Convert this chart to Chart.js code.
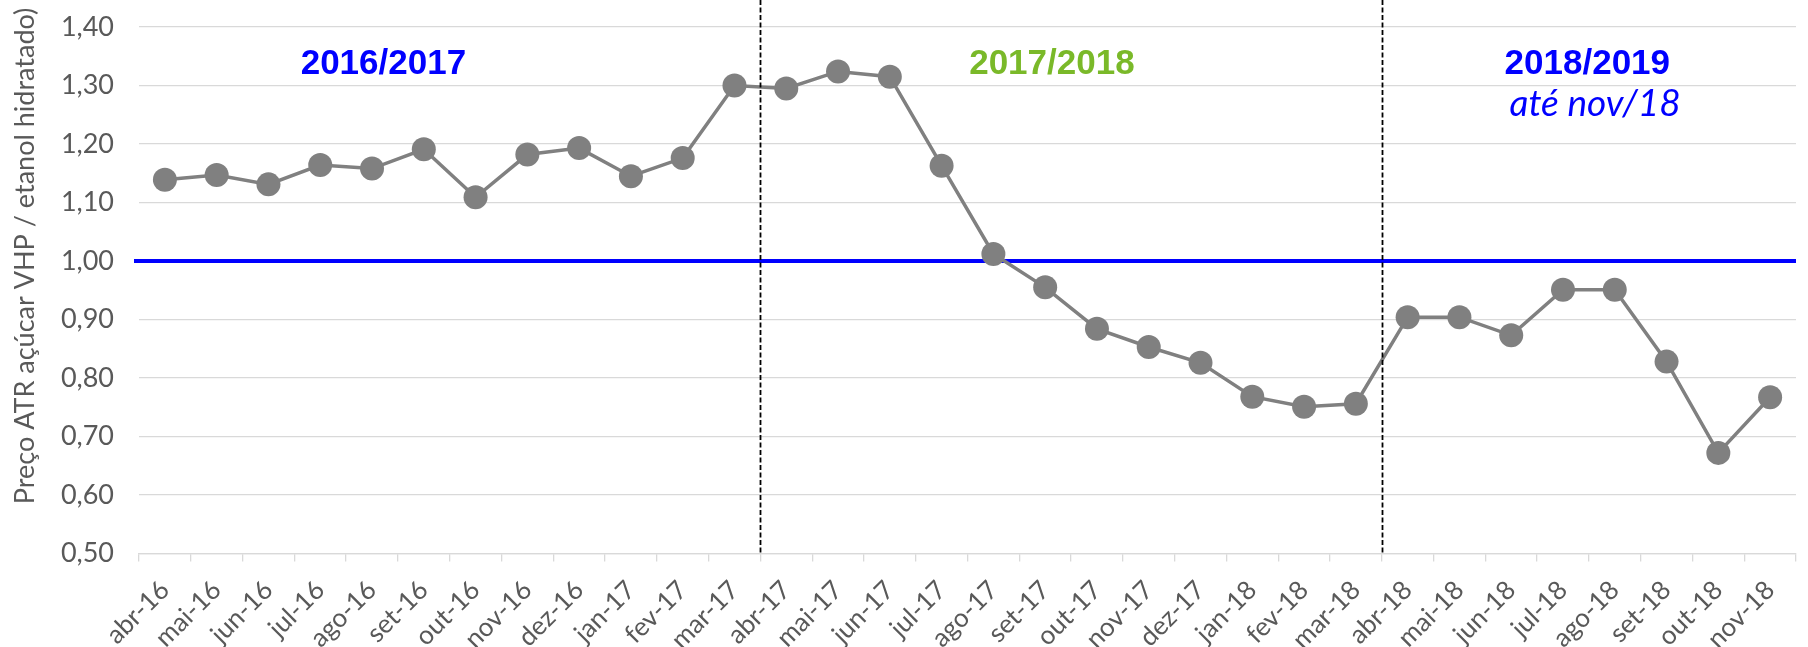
<!DOCTYPE html>
<html>
<head>
<meta charset="utf-8">
<script src="https://cdn.jsdelivr.net/npm/chart.js@4/dist/chart.umd.min.js"></script>
<style>
  html, body { margin: 0; padding: 0; background: #fff; }
</style>
</head>
<body>
<canvas id="grafico" width="1808" height="647"></canvas>
<script>
/*
* dados
*/
const meses = ['abr-16', 'mai-16', 'jun-16', 'jul-16', 'ago-16', 'set-16', 'out-16', 'nov-16',
  'dez-16', 'jan-17', 'fev-17', 'mar-17', 'abr-17', 'mai-17', 'jun-17', 'jul-17',
  'ago-17', 'set-17', 'out-17', 'nov-17', 'dez-17', 'jan-18', 'fev-18', 'mar-18',
  'abr-18', 'mai-18', 'jun-18', 'jul-18', 'ago-18', 'set-18', 'out-18', 'nov-18'];

// relação preço ATR açúcar VHP / etanol hidratado
const relacao = [1.139, 1.147, 1.131, 1.164, 1.158, 1.191, 1.109, 1.182,
  1.193, 1.145, 1.176, 1.300, 1.295, 1.324, 1.315, 1.163,
  1.012, 0.955, 0.884, 0.853, 0.826, 0.768, 0.751, 0.756,
  0.904, 0.904, 0.873, 0.951, 0.951, 0.828, 0.672, 0.767];

const yMin = 0.5;
const yMax = 1.4;
const yStep = 0.1;
const paridade = 1.0;            // linha azul
const divisoesSafra = [11.5, 23.5]; // entre mar e abr
const safras = ['2016/2017', '2017/2018', '2018/2019'];
const notaSafra = 'até nov/18';
const tituloY = 'Preço ATR açúcar VHP / etanol hidratado)';

// onde ficam os textos das safras (índice do mês, valor no eixo y)
const posSafras = [[4.22, 1.336], [17.13, 1.336], [27.47, 1.336]];
const posNota = [27.62, 1.268];
const corSafras = ['#0000ff', '#7ab929', '#0000ff'];

const cinza = '#595959';
const grade = '#d9d9d9';

// desenhos extras: linha de paridade, divisões e textos
const extras = {
  id: 'extras',
  beforeDatasetsDraw(chart) {
    const { ctx, chartArea: a, scales: { y } } = chart;
    const py = y.getPixelForValue(paridade);
    ctx.save();
    ctx.strokeStyle = '#0000ff';
    ctx.lineWidth = 4;
    ctx.beginPath();
    ctx.moveTo(a.left - 5, py);
    ctx.lineTo(a.right, py);
    ctx.stroke();
    ctx.restore();
  },
  afterDatasetsDraw(chart) {
    const { ctx, chartArea: a, scales: { x } } = chart;
    ctx.save();
    ctx.strokeStyle = '#000';
    ctx.lineWidth = 1.8;
    ctx.setLineDash([5, 2.5]);
    divisoesSafra.forEach(d => {
      const px = Math.round(x.getPixelForValue(d)) + 0.5;
      ctx.beginPath();
      ctx.moveTo(px, 0);
      ctx.lineTo(px, a.bottom);
      ctx.stroke();
    });
    ctx.restore();
  },
  afterDraw(chart) {
    const { ctx, scales: { x, y } } = chart;
    ctx.save();
    ctx.textAlign = 'center';
    ctx.textBaseline = 'middle';
    ctx.font = 'bold 35px "Liberation Sans", Arial, sans-serif';
    safras.forEach((s, i) => {
      ctx.fillStyle = corSafras[i];
      ctx.fillText(s, x.getPixelForValue(posSafras[i][0]), y.getPixelForValue(posSafras[i][1]));
    });
    ctx.font = 'italic 37px Lato, sans-serif';
    ctx.fillStyle = '#0000ff';
    ctx.fillText(notaSafra, x.getPixelForValue(posNota[0]), y.getPixelForValue(posNota[1]));

    // título do eixo y
    ctx.translate(25, 256);
    ctx.rotate(-Math.PI / 2);
    ctx.font = '27px Lato, sans-serif';
    ctx.fillStyle = cinza;
    ctx.fillText(tituloY, 0, 0);
    ctx.restore();
  }
};

const ctx = document.getElementById('grafico').getContext('2d');
const chart = new Chart(ctx, {
  type: 'line',
  data: {
    labels: meses,
    datasets: [{
      data: relacao,
      borderColor: '#808080',
      backgroundColor: '#808080',
      borderWidth: 3.5,
      pointRadius: 12,
      pointBorderWidth: 0,
      pointHoverRadius: 12,
      tension: 0
    }]
  },
  options: {
    responsive: false,
    animation: false,
    devicePixelRatio: 1,
    layout: { padding: { top: 27, right: 1, left: 0, bottom: 0 } },
    plugins: {
      legend: { display: false },
      tooltip: { enabled: false }
    },
    scales: {
      x: {
        offset: true,
        afterFit(scale) { scale.height = 93.5; },
        grid: {
          offset: true,
          drawOnChartArea: false,
          drawTicks: true,
          tickLength: 8,
          color: grade,
          lineWidth: 1.3
        },
        border: { color: grade, width: 1.3 },
        ticks: {
          autoSkip: false,
          maxRotation: 45,
          minRotation: 45,
          padding: 13,
          color: cinza,
          font: { family: 'Lato', size: 26 }
        }
      },
      y: {
        min: yMin,
        max: yMax,
        afterFit(scale) {
          scale.width = 139;
          scale.paddingTop = 0;
          scale.paddingBottom = 0;
        },
        grid: {
          color: grade,
          lineWidth: 1.3,
          drawTicks: false
        },
        border: { display: false },
        ticks: {
          stepSize: yStep,
          padding: 25,
          color: cinza,
          font: { family: 'Lato', size: 27 },
          callback: v => v.toFixed(2).replace('.', ',')
        }
      }
    }
  },
  plugins: [extras]
});
</script>
</body>
</html>
